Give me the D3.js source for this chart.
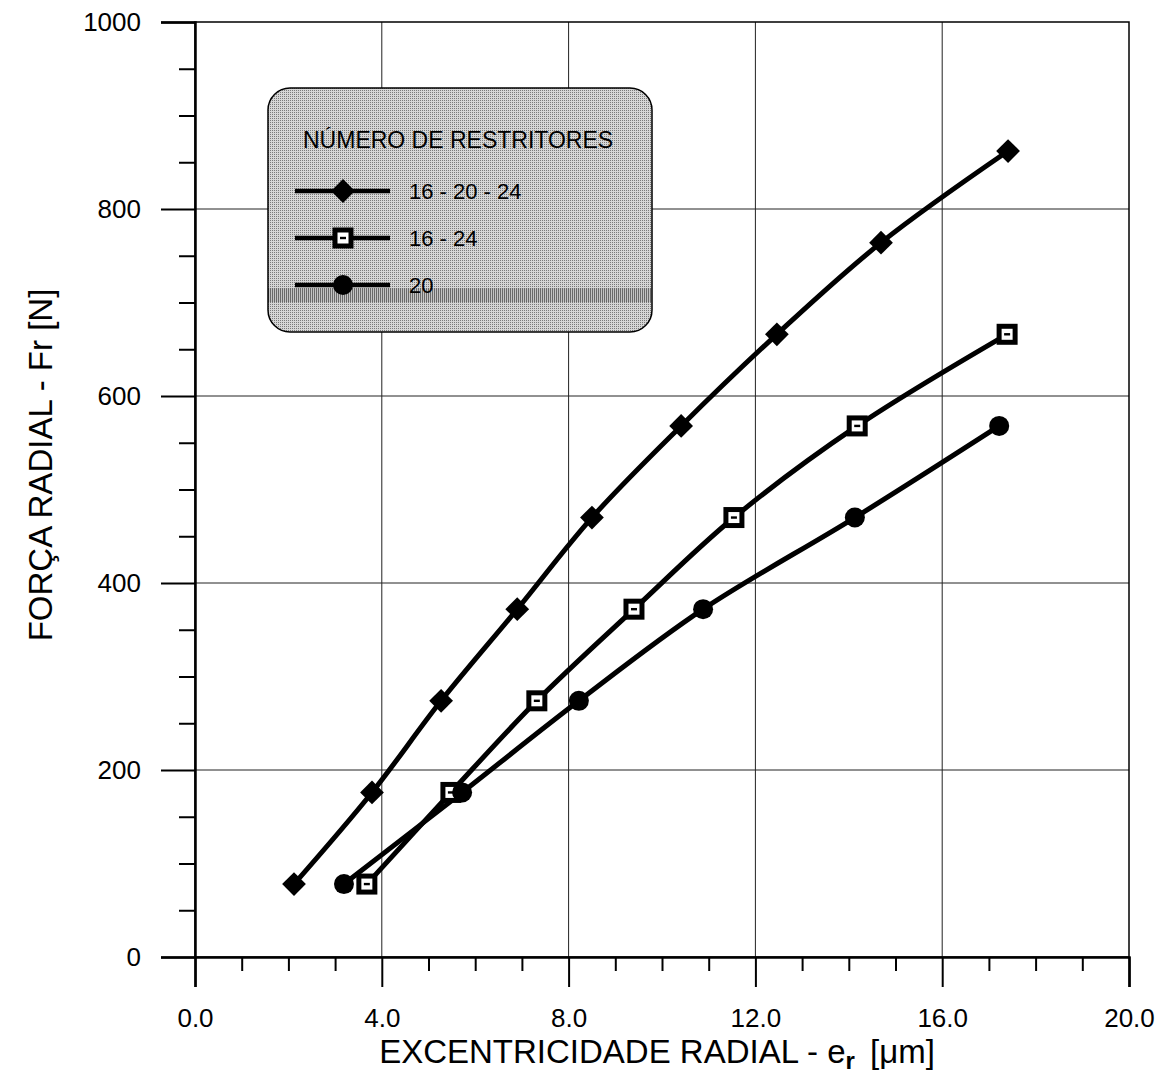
<!DOCTYPE html>
<html>
<head>
<meta charset="utf-8">
<script src="https://cdn.jsdelivr.net/npm/d3@7"></script>
<style>
  html, body { margin: 0; padding: 0; background: #fff; }
  svg { display: block; font-family: Arial, "Liberation Sans", sans-serif; }
</style>
</head>
<body>
<svg id="chart" width="1164" height="1074"></svg>
<script>
// Radial eccentricity [µm] vs radial force [N] for three restrictor layouts
const seriesNames = ["16 - 20 - 24", "16 - 24", "20"];
const seriesSymbols = ["diamond", "square", "circle"];

const ecc_16_20_24 = [2.12, 3.79, 5.27, 6.90, 8.50, 10.41, 12.46, 14.69, 17.41];
const force_16_20_24 = [78, 176, 274, 372, 470, 568, 666, 764, 862];

const ecc_16_24 = [3.68, 5.48, 7.32, 9.40, 11.54, 14.18, 17.39];
const force_16_24 = [78, 176, 274, 372, 470, 568, 666];

const ecc_20 = [3.19, 5.72, 8.22, 10.88, 14.13, 17.22];
const force_20 = [78, 176, 274, 372, 470, 568];

const xTickValues = [0, 4, 8, 12, 16, 20];
const xTickLabels = ["0.0", "4.0", "8.0", "12.0", "16.0", "20.0"];
const yTickValues = [0, 200, 400, 600, 800, 1000];
const yTickLabels = ["0", "200", "400", "600", "800", "1000"];

const legendTitle = "NÚMERO DE RESTRITORES";
const xTitle = "EXCENTRICIDADE RADIAL - e";
const xTitleSub = "r";
const xTitleUnit = "[\u03BCm]";
const yTitle = "FORÇA RADIAL - Fr [N]";

const series = [
  { name: seriesNames[0], symbol: seriesSymbols[0], x: ecc_16_20_24, y: force_16_20_24 },
  { name: seriesNames[1], symbol: seriesSymbols[1], x: ecc_16_24, y: force_16_24 },
  { name: seriesNames[2], symbol: seriesSymbols[2], x: ecc_20, y: force_20 }
];

const svg = d3.select("#chart");
const plotLeft = 195, plotRight = 1129, plotTop = 22, plotBottom = 957;

const x = d3.scaleLinear().domain([0, 20]).range([plotLeft, plotRight]);
const y = d3.scaleLinear().domain([0, 1000]).range([plotBottom, plotTop]);

// grid
const grid = svg.append("g").attr("stroke", "#222").attr("stroke-width", 1);
grid.selectAll("line.gx").data(xTickValues.slice(1, -1)).join("line")
  .attr("x1", d => x(d)).attr("x2", d => x(d)).attr("y1", plotTop).attr("y2", plotBottom);
grid.selectAll("line.gy").data(yTickValues.slice(1, -1)).join("line")
  .attr("y1", d => y(d)).attr("y2", d => y(d)).attr("x1", plotLeft).attr("x2", plotRight);

// frame
svg.append("rect").attr("x", plotLeft).attr("y", plotTop)
  .attr("width", plotRight - plotLeft).attr("height", plotBottom - plotTop)
  .attr("fill", "none").attr("stroke", "#000").attr("stroke-width", 1.5);

// x axis
const xAxis = d3.axisBottom(x).tickValues(xTickValues)
  .tickFormat((d, i) => xTickLabels[i]).tickSize(30).tickPadding(22);
const gx = svg.append("g").attr("transform", `translate(0,${plotBottom})`).call(xAxis);
gx.select(".domain").attr("stroke-width", 2.5);
gx.selectAll(".tick line").attr("stroke-width", 2);
gx.selectAll("text").attr("font-size", 26).attr("fill", "#000")
  .attr("font-family", "Arial, 'Liberation Sans', sans-serif");
const xMinor = d3.axisBottom(x).tickValues(d3.range(0, 21, 1).filter(v => v % 4 !== 0))
  .tickSize(14).tickFormat("");
svg.append("g").attr("transform", `translate(0,${plotBottom})`).call(xMinor)
  .call(g => g.select(".domain").remove())
  .selectAll("line").attr("stroke-width", 2);

// y axis
const yAxis = d3.axisLeft(y).tickValues(yTickValues)
  .tickFormat((d, i) => yTickLabels[i]).tickSize(34).tickPadding(20);
const gy = svg.append("g").attr("transform", `translate(${plotLeft},0)`).call(yAxis);
gy.select(".domain").attr("stroke-width", 2.5);
gy.selectAll(".tick line").attr("stroke-width", 2);
gy.selectAll("text").attr("font-size", 26).attr("fill", "#000")
  .attr("font-family", "Arial, 'Liberation Sans', sans-serif");
const yMinor = d3.axisLeft(y).tickValues(d3.range(0, 1001, 50).filter(v => v % 200 !== 0))
  .tickSize(16).tickFormat("");
svg.append("g").attr("transform", `translate(${plotLeft},0)`).call(yMinor)
  .call(g => g.select(".domain").remove())
  .selectAll("line").attr("stroke-width", 2);

// axis titles
const xt = svg.append("text").attr("x", 657).attr("y", 1063)
  .attr("text-anchor", "middle").attr("font-size", 33).attr("fill", "#000");
xt.append("tspan").text(xTitle);
xt.append("tspan").text(xTitleSub).attr("font-size", 24).attr("font-weight", "bold").attr("dy", 6);
xt.append("tspan").text(" " + xTitleUnit).attr("font-size", 33).attr("dy", -6).attr("dx", 6);

svg.append("text").attr("transform", "translate(52,465) rotate(-90)")
  .attr("text-anchor", "middle").attr("font-size", 33).attr("fill", "#000").text(yTitle);

// marker drawing
function drawMarker(g, symbol, cx, cy) {
  if (symbol === "diamond") {
    g.append("path").attr("d", d3.symbol(d3.symbolDiamond2, 360)())
      .attr("transform", `translate(${cx},${cy})`)
      .attr("fill", "#000");
  } else if (symbol === "square") {
    g.append("rect").attr("x", cx - 8).attr("y", cy - 8).attr("width", 16).attr("height", 16)
      .attr("fill", "#fff").attr("stroke", "#000").attr("stroke-width", 5);
    g.append("rect").attr("x", cx - 3).attr("y", cy - 1.2).attr("width", 6).attr("height", 2.4)
      .attr("fill", "#000");
  } else {
    g.append("circle").attr("cx", cx).attr("cy", cy).attr("r", 10).attr("fill", "#000");
  }
}

// series lines and markers
const line = d3.line().curve(d3.curveCatmullRom.alpha(0.5))
  .x(d => x(d[0])).y(d => y(d[1]));
const plot = svg.append("g");
series.forEach(s => {
  const pts = s.x.map((v, i) => [v, s.y[i]]);
  plot.append("path").datum(pts).attr("d", line)
    .attr("fill", "none").attr("stroke", "#000").attr("stroke-width", 5)
    .attr("stroke-linejoin", "round");
});
series.forEach(s => {
  const g = plot.append("g");
  s.x.forEach((v, i) => drawMarker(g, s.symbol, x(v), y(s.y[i])));
});

// legend with dithered grey fill
const defs = svg.append("defs");
const pat = defs.append("pattern").attr("id", "dither").attr("patternUnits", "userSpaceOnUse")
  .attr("width", 2).attr("height", 2);
pat.append("rect").attr("width", 2).attr("height", 2).attr("fill", "#d6d6d6");
pat.append("rect").attr("width", 1).attr("height", 1).attr("fill", "#7a7a7a");
const pat2 = defs.append("pattern").attr("id", "dither2").attr("patternUnits", "userSpaceOnUse")
  .attr("width", 2).attr("height", 2);
pat2.append("rect").attr("width", 2).attr("height", 2).attr("fill", "#c4c4c4");
pat2.append("rect").attr("width", 1).attr("height", 2).attr("fill", "#6a6a6a");
defs.append("clipPath").attr("id", "legclip").append("rect")
  .attr("x", 268).attr("y", 88).attr("width", 384).attr("height", 244).attr("rx", 22);

const lg = svg.append("g");
lg.append("rect").attr("x", 268).attr("y", 88).attr("width", 384).attr("height", 244).attr("rx", 22)
  .attr("fill", "url(#dither)");
lg.append("rect").attr("x", 268).attr("y", 288).attr("width", 384).attr("height", 14)
  .attr("clip-path", "url(#legclip)").attr("fill", "url(#dither2)");
lg.append("rect").attr("x", 268).attr("y", 88).attr("width", 384).attr("height", 244).attr("rx", 22)
  .attr("fill", "none").attr("stroke", "#000").attr("stroke-width", 1.5);

lg.append("text").attr("x", 303).attr("y", 148).attr("font-size", 23).attr("fill", "#000")
  .text(legendTitle);
const legendY = [191, 238, 285];
series.forEach((s, i) => {
  const ly = legendY[i];
  lg.append("line").attr("x1", 295).attr("x2", 390).attr("y1", ly).attr("y2", ly)
    .attr("stroke", "#000").attr("stroke-width", 4.5);
  drawMarker(lg, s.symbol, 343, ly);
  lg.append("text").attr("x", 409).attr("y", ly + 8).attr("font-size", 22).attr("fill", "#000")
    .text(s.name);
});
</script>
</body>
</html>
